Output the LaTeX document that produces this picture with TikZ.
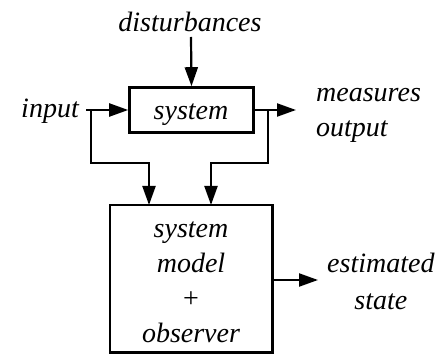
\documentclass[tikz,border=0pt]{standalone}
\usepackage{fontspec}
\setmainfont{Liberation Serif}
\usetikzlibrary{arrows.meta}
\begin{document}
\begin{tikzpicture}[x=1pt,y=-1pt,
  lbl/.style={font=\fontsize{28}{35}\selectfont\itshape, inner sep=0pt, align=center},
  blk/.style={draw, line width=2.6pt, inner sep=0pt},
  con/.style={line width=2.2pt},
  arr/.style={con, -{Triangle[length=19pt,width=13pt]}}]
\useasboundingbox (0,0) rectangle (439,355);
\node[blk, minimum width=124pt, minimum height=45pt] (sys) at (191.5,110) {};
\node[lbl, anchor=base] at (191,120) {system};
\node[blk, minimum width=162.5pt, minimum height=147.5pt] (obs) at (191.25,278.75) {};
\node[lbl, anchor=base] at (191,342) {system\\model\\{\upshape +}\\observer};
\node[lbl, anchor=base] (dist) at (190,32) {disturbances};
\node[lbl, anchor=base east] (in) at (79,118) {input};
\node[lbl, anchor=base west, align=left] (out) at (316,137) {measures\\output};
\node[lbl, anchor=base west, font=\fontsize{28}{36}\selectfont\itshape] (est) at (327,309) {estimated\\state};
\coordinate (inS) at (86,110);
\coordinate (j1) at (91,110);
\coordinate (j2) at (268,110);
\coordinate (outE) at (296,110);
\coordinate (estE) at (318,280);
\draw[arr] (191,37) -- (sys.north);
\draw[arr] (inS) -- (sys.west);
\draw[arr] (sys.east) -- (outE);
\draw[arr] (j1) -- (91,163) -- (149,163) -- (149,205);
\draw[arr] (j2) -- (268,163) -- (211,163) -- (211,205);
\draw[arr] (obs.east |- estE) -- (estE);
\end{tikzpicture}
\end{document}
